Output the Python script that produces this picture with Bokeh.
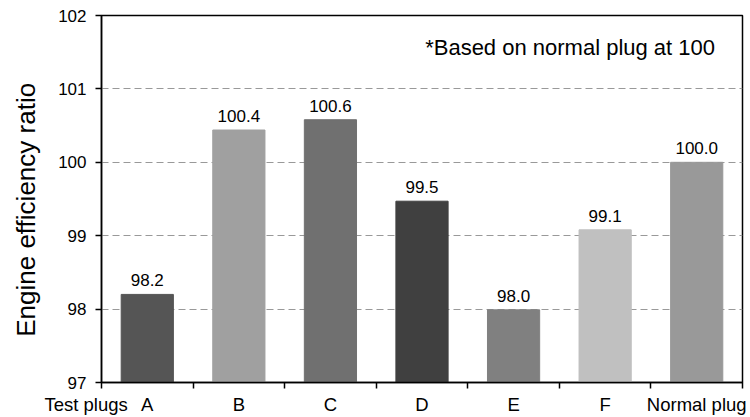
from bokeh.plotting import figure
from bokeh.models import ColumnDataSource, FixedTicker, Label, Range1d
from bokeh.core.properties import value
from bokeh.embed import file_html
from bokeh.resources import INLINE

categories = ["A", "B", "C", "D", "E", "F", "Normal plug"]
values = [98.2, 100.44, 100.58, 99.47, 97.99, 99.08, 100.0]
colors = ["#555555", "#a0a0a0", "#707070", "#404040", "#808080", "#c0c0c0", "#999999"]
y_ticks = [97, 98, 99, 100, 101, 102]
x_title = "Test plugs"
y_title = "Engine efficiency ratio"
note = "*Based on normal plug at 100"

FONT = "Liberation Sans"
xs = list(range(len(categories)))
src = ColumnDataSource(dict(x=xs, top=values, color=colors,
                            lbl=[f"{v:.1f}" for v in values]))

p = figure(width=750, height=417, output_backend="svg", toolbar_location=None,
           x_range=Range1d(-0.5, len(categories) - 0.5), y_range=Range1d(97, 102),
           min_border_left=101, min_border_right=8, min_border_top=15, min_border_bottom=35)

p.vbar(x="x", top="top", bottom=97, width=0.57, color="color", source=src)
p.text(x="x", y="top", text="lbl", source=src, text_align="center", text_baseline="alphabetic",
       y_offset=-14, text_font=value(FONT), text_font_size="17px", text_color="black")

p.outline_line_color = "black"
p.outline_line_width = 1.5
p.background_fill_color = "white"
p.border_fill_color = "white"

p.xgrid.visible = False
p.ygrid.ticker = FixedTicker(ticks=[98, 99, 100, 101])
p.ygrid.grid_line_color = "#999999"
p.ygrid.grid_line_dash = "7 4"

# "Test plugs" sits at the left frame edge; padded with no-break spaces so it ends before "A"
overrides = {i: c for i, c in enumerate(categories)}
overrides[-0.5] = x_title + "\u00a0" * 6

ax = p.xaxis[0]
ax.ticker = FixedTicker(ticks=[-0.5] + xs, minor_ticks=[i - 0.5 for i in range(len(categories) + 1)])
ax.major_label_overrides = overrides
ax.major_tick_line_color = None
ax.major_tick_out = 6
ax.minor_tick_out = 6
ax.minor_tick_in = 0
ax.minor_tick_line_color = "black"
ax.minor_tick_line_width = 1.5
ax.axis_line_color = "black"
ax.axis_line_width = 1.5
ax.major_label_text_font = FONT
ax.major_label_text_font_size = "18.5px"
ax.major_label_text_color = "black"
ax.major_label_standoff = 5

ay = p.yaxis[0]
ay.ticker = FixedTicker(ticks=y_ticks)
ay.major_tick_out = 6
ay.major_tick_in = 0
ay.minor_tick_line_color = None
ay.axis_line_color = "black"
ay.major_tick_line_color = "black"
ay.axis_line_width = 1.5
ay.major_tick_line_width = 1.5
ay.major_label_text_font = FONT
ay.major_label_text_font_size = "17px"
ay.major_label_text_color = "black"
ay.major_label_standoff = 9
ay.axis_label = y_title + "\u00a0" * 3
ay.axis_label_text_font = FONT
ay.axis_label_text_font_size = "26px"
ay.axis_label_text_font_style = "normal"
ay.axis_label_text_color = "black"
ay.axis_label_standoff = 14

p.add_layout(Label(x=6.2, y=101.57, text=note,
                   text_align="right", text_baseline="middle",
                   text_font=FONT, text_font_size="22px", text_color="black"))

open("out.html", "w").write(file_html(p, INLINE))
